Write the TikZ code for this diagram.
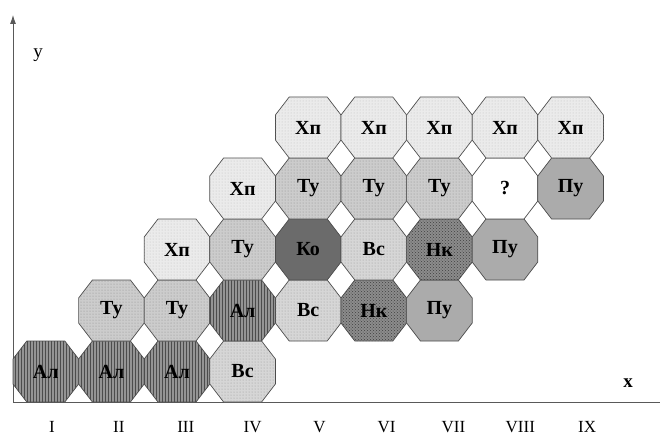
\documentclass[tikz,border=0pt]{standalone}
\usepackage{fontspec}
\setmainfont{Liberation Serif}
\usetikzlibrary{arrows.meta, patterns}

\begin{document}
\begin{tikzpicture}[x=1pt, y=1pt, >=Latex,
  cell/.style={draw=black!70, line width=0.7pt},
  xp/.style={cell, fill=black!8, postaction={pattern=dots, pattern color=black!25}},
  tu/.style={cell, fill=black!20, postaction={pattern=dots, pattern color=black!45}},
  vs/.style={cell, fill=black!16, postaction={pattern=dots, pattern color=black!40}},
  al/.style={cell, fill=black!42, postaction={pattern=vertical lines, pattern color=black!70}},
  ko/.style={cell, fill=black!58},
  nk/.style={cell, fill=black!45, postaction={pattern=crosshatch dots, pattern color=black!75}},
  pu/.style={cell, fill=black!33},
  qq/.style={cell, fill=white},
  tag/.style={font=\fontsize{20}{20}\selectfont\bfseries, inner sep=0pt},
  num/.style={font=\fontsize{17}{17}\selectfont, inner sep=0pt},
  axis/.style={draw=black!65, line width=0.8pt}]

\useasboundingbox (0,0) rectangle (660,437);

% --- axes
\coordinate (o) at (13,35);
\coordinate (ytop) at (13,422);
\coordinate (xend) at (660,35);
\draw[axis, -{Latex[length=9pt, width=6pt]}] (o) -- (ytop);
\draw[axis] (o) -- (xend);
\node[font=\fontsize{19}{19}\selectfont] (ylab) at (38,382) {y};
\node[font=\fontsize{19}{19}\selectfont\bfseries] (xlab) at (628,54) {x};

% --- octagon cells: column/row/style/text
\foreach \c/\r/\s/\t in {
  1/1/al/Ал, 2/1/al/Ал, 3/1/al/Ал, 4/1/vs/Вс,
  2/2/tu/Ту, 3/2/tu/Ту, 4/2/al/Ал, 5/2/vs/Вс, 6/2/nk/Нк, 7/2/pu/Пу,
  3/3/xp/Хп, 4/3/tu/Ту, 5/3/ko/Ко, 6/3/vs/Вс, 7/3/nk/Нк, 8/3/pu/Пу,
  4/4/xp/Хп, 5/4/tu/Ту, 6/4/tu/Ту, 7/4/tu/Ту, 8/4/qq/?, 9/4/pu/Пу,
  5/5/xp/Хп, 6/5/xp/Хп, 7/5/xp/Хп, 8/5/xp/Хп, 9/5/xp/Хп}{
  \coordinate (p\c\r) at ({45.8+65.6*(\c-1)}, {65.5+61*(\r-1)});
  \draw[\s] (p\c\r) ++(-19,30.5) -- ++(38,0) -- ++(13.8,-18) -- ++(0,-25)
    -- ++(-13.8,-18) -- ++(-38,0) -- ++(-13.8,18) -- ++(0,25) -- cycle;
  \node[tag] (n\c\r) at (p\c\r) {\t};
}

% --- column numbers
\foreach \k/\t in {0/I, 1/II, 2/III, 3/IV, 4/V, 5/VI, 6/VII, 7/VIII, 8/IX}
  \node[num] (col\k) at ({52+66.9*\k}, 10) {\t};
\end{tikzpicture}
\end{document}
